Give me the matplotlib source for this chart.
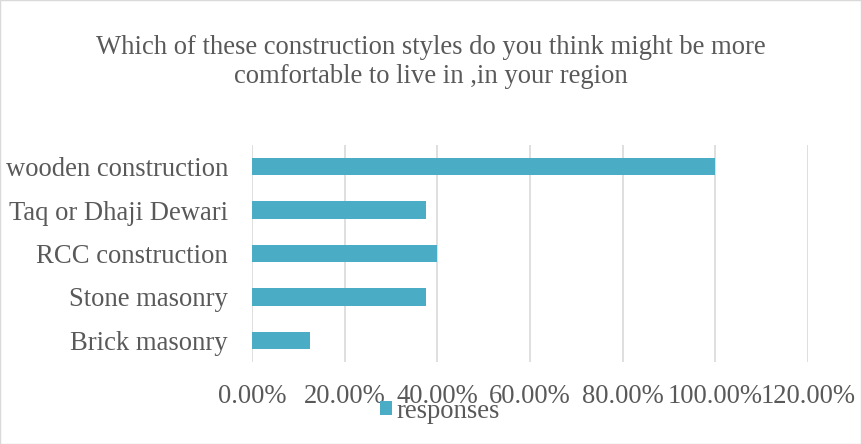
import numpy as np
import matplotlib.pyplot as plt
from matplotlib.ticker import FuncFormatter
from matplotlib.patches import Rectangle

# survey results, top to bottom as shown
styles = ['wooden construction', 'Taq or Dhaji Dewari', 'RCC construction',
          'Stone masonry', 'Brick masonry']
responses = [1.00, 0.375, 0.40, 0.375, 0.125]
x_ticks = [0.0, 0.2, 0.4, 0.6, 0.8, 1.0, 1.2]

text_col = '#595959'
bar_col = '#4BACC6'
fs = 19.2
plt.rcParams['font.family'] = ['Liberation Serif', 'DejaVu Serif']

W, H = 862, 444
fig = plt.figure(figsize=(W/100, H/100), dpi=100)
ax = fig.add_axes([252/W, (H-362)/H, 556/W, 217/H])

y = np.arange(len(styles))[::-1]
ax.barh(y, responses, height=0.4, color=bar_col, label='responses', zorder=3)
ax.set_xlim(0, 1.2)
ax.set_ylim(-0.5, len(styles)-0.5)
ax.set_xticks(x_ticks)
ax.xaxis.set_major_formatter(FuncFormatter(lambda v, p: '{:.2f}%'.format(v*100)))
ax.set_yticks(y)
ax.set_yticklabels(styles)
ax.grid(axis='x', color='#D9D9D9', lw=1.2, zorder=0)
for s in ax.spines.values():
    s.set_visible(False)
ax.tick_params(axis='both', length=0, labelsize=fs, labelcolor=text_col)
ax.tick_params(axis='x', pad=15.5)
ax.tick_params(axis='y', pad=17.3)

fig.text(0.5, 1-62/H, 'Which of these construction styles do you think might be more\ncomfortable to live in ,in your region',
         ha='center', va='center', fontsize=fs, color=text_col, linespacing=1.25)

fig.legend(loc='center', bbox_to_anchor=(440/W, 1-411/H), frameon=False, fontsize=fs,
           labelcolor=text_col, handlelength=0.45, handleheight=0.45, handletextpad=0.15)

fig.patches.append(Rectangle((0.5/W, 0.5/H), 1-1/W, 1-1/H, transform=fig.transFigure,
                             fill=False, edgecolor='#D9D9D9', lw=1))
fig.savefig('out.png', dpi=100)
